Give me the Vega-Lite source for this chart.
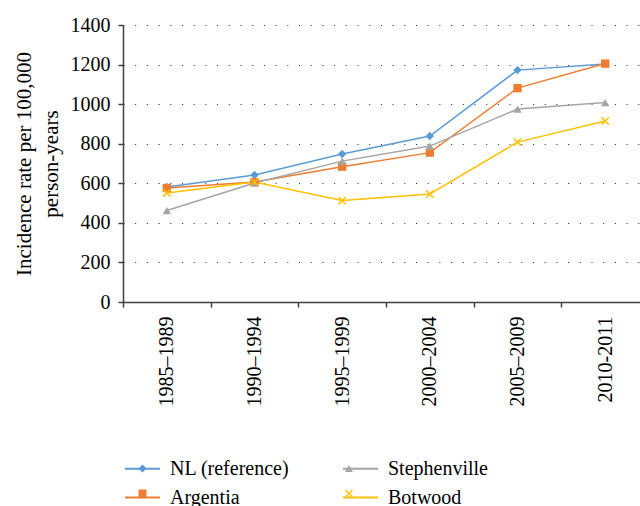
{
  "$schema": "https://vega.github.io/schema/vega-lite/v6.json",
  "width": 526,
  "height": 277,
  "autosize": {"type": "none"},
  "padding": {"left": 123, "top": 25, "right": 0, "bottom": 204},
  "background": "white",
  "config": {
    "view": {"stroke": null},
    "font": "Liberation Serif",
    "axis": {
      "labelFont": "Liberation Serif",
      "labelFontSize": 20,
      "labelColor": "#000000",
      "titleFont": "Liberation Serif",
      "titleFontSize": 21,
      "titleFontWeight": "normal",
      "titleColor": "#000000",
      "domainColor": "#404040",
      "domainWidth": 1.5,
      "tickColor": "#404040",
      "tickWidth": 1.5
    }
  },
  "data": {
    "values": [
      {"series": "NL (reference)", "period": "1985\u20131989", "value": 581},
      {"series": "NL (reference)", "period": "1990\u20131994", "value": 642},
      {"series": "NL (reference)", "period": "1995\u20131999", "value": 748},
      {"series": "NL (reference)", "period": "2000\u20132004", "value": 839},
      {"series": "NL (reference)", "period": "2005\u20132009", "value": 1172},
      {"series": "NL (reference)", "period": "2010-2011", "value": 1203},
      {"series": "Argentia", "period": "1985\u20131989", "value": 576},
      {"series": "Argentia", "period": "1990\u20131994", "value": 606},
      {"series": "Argentia", "period": "1995\u20131999", "value": 684},
      {"series": "Argentia", "period": "2000\u20132004", "value": 755},
      {"series": "Argentia", "period": "2005\u20132009", "value": 1081},
      {"series": "Argentia", "period": "2010-2011", "value": 1205},
      {"series": "Stephenville", "period": "1985\u20131989", "value": 462},
      {"series": "Stephenville", "period": "1990\u20131994", "value": 601},
      {"series": "Stephenville", "period": "1995\u20131999", "value": 712},
      {"series": "Stephenville", "period": "2000\u20132004", "value": 788},
      {"series": "Stephenville", "period": "2005\u20132009", "value": 975},
      {"series": "Stephenville", "period": "2010-2011", "value": 1008},
      {"series": "Botwood", "period": "1985\u20131989", "value": 551},
      {"series": "Botwood", "period": "1990\u20131994", "value": 606},
      {"series": "Botwood", "period": "1995\u20131999", "value": 513},
      {"series": "Botwood", "period": "2000\u20132004", "value": 546},
      {"series": "Botwood", "period": "2005\u20132009", "value": 808},
      {"series": "Botwood", "period": "2010-2011", "value": 915}
    ]
  },
  "encoding": {
    "x": {
      "field": "period",
      "type": "ordinal",
      "sort": ["1985\u20131989", "1990\u20131994", "1995\u20131999", "2000\u20132004", "2005\u20132009", "2010-2011"],
      "bandPosition": 0.5,
      "scale": {"type": "band", "paddingInner": 0, "paddingOuter": 0},
      "axis": {
        "title": null,
        "labelAngle": -90,
        "labelPadding": 9,
        "tickSize": 5,
        "tickBand": "extent",
        "grid": false
      }
    },
    "y": {
      "field": "value",
      "type": "quantitative",
      "scale": {"domain": [0, 1400], "nice": false},
      "axis": {
        "values": [0, 200, 400, 600, 800, 1000, 1200, 1400],
        "format": "d",
        "title": ["Incidence rate per 100,000", "person-years"],
        "titleLineHeight": 27,
        "titleX": -110,
        "titleBaseline": "top",
        "tickSize": 5,
        "labelPadding": 8,
        "grid": true,
        "gridColor": "#000000",
        "gridOpacity": 0.85,
        "gridWidth": 1,
        "gridDash": [1, 10.7]
      }
    }
  },
  "layer": [
    {
      "mark": {"type": "line", "strokeWidth": 1.5},
      "encoding": {
        "stroke": {
          "field": "series",
          "type": "nominal",
          "scale": {
            "domain": ["NL (reference)", "Argentia", "Stephenville", "Botwood"],
            "range": ["#5B9BD5", "#ED7D31", "#A5A5A5", "#FFC000"]
          },
          "legend": {
            "orient": "none",
            "legendX": 1,
            "legendY": 425,
            "columns": 2,
            "padding": 0,
            "title": null,
            "symbolType": "stroke",
            "symbolSize": 1225,
            "symbolStrokeWidth": 2,
            "labelFont": "Liberation Serif",
            "labelFontSize": 20,
            "labelColor": "#000000",
            "labelOffset": 9,
            "columnPadding": 49,
            "rowPadding": -12
          }
        }
      }
    },
    {
      "mark": {"type": "point", "filled": true, "size": 70, "opacity": 1},
      "encoding": {
        "color": {
          "field": "series",
          "type": "nominal",
          "sort": null,
          "scale": {"range": ["#5B9BD5", "#ED7D31", "#A5A5A5", "#FFC000"]},
          "legend": {
            "orient": "none",
            "legendX": 9.5,
            "legendY": 433.5,
            "columns": 2,
            "padding": 0,
            "title": null,
            "symbolSize": 64,
            "symbolStrokeWidth": 0,
            "labelFont": "Liberation Serif",
            "labelFontSize": 20,
            "labelExpr": "''",
            "labelOffset": 17.5,
            "columnPadding": 168.5,
            "rowPadding": 5
          }
        },
        "shape": {
          "field": "series",
          "type": "nominal",
          "sort": null,
          "scale": {
            "range": ["diamond", "square", "triangle-up", "M-1,-0.75L-0.75,-1L0,-0.25L0.75,-1L1,-0.75L0.25,0L1,0.75L0.75,1L0,0.25L-0.75,1L-1,0.75L-0.25,0Z"]
          },
          "legend": {
            "orient": "none",
            "legendX": 9.5,
            "legendY": 433.5,
            "columns": 2,
            "padding": 0,
            "title": null,
            "symbolSize": 64,
            "symbolStrokeWidth": 0,
            "labelFont": "Liberation Serif",
            "labelFontSize": 20,
            "labelExpr": "''",
            "labelOffset": 17.5,
            "columnPadding": 168.5,
            "rowPadding": 5
          }
        }
      }
    }
  ]
}
